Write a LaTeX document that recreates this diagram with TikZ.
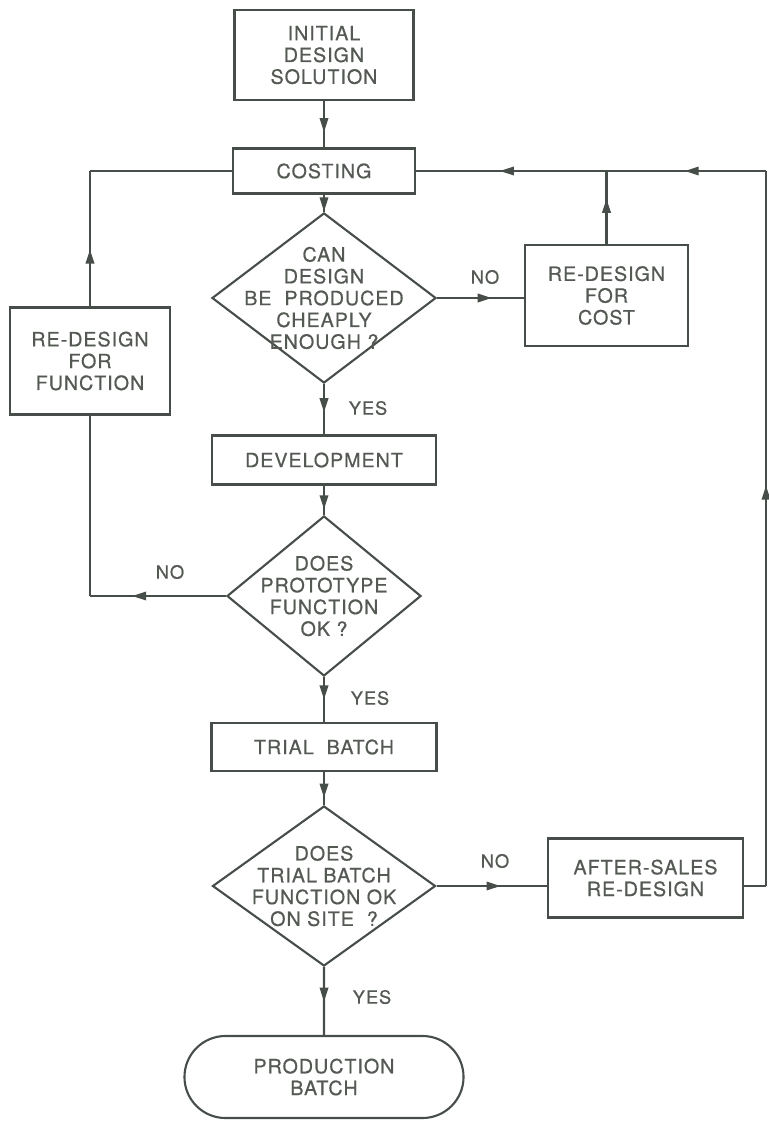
\documentclass[tikz,border=0pt]{standalone}
\usepackage{fontspec}
\setmainfont[LetterSpace=5, FakeBold=0.6]{TeX Gyre Heros}
\usepackage{tikz}
\usetikzlibrary{shapes.geometric, shapes.misc, arrows.meta, decorations.markings, calc}
\definecolor{inkgrey}{HTML}{474D48}
\definecolor{textgrey}{HTML}{545954}

\begin{document}
\begin{tikzpicture}[x=0.025cm, y=-0.025cm,
  blockbox/.style={draw=inkgrey, line width=1.5pt, rectangle, align=center, text=textgrey, font=\fontsize{14}{15.5}\selectfont, inner sep=0pt},
  querybox/.style={draw=inkgrey, line width=1.5pt, diamond, inner sep=0pt},
  querytext/.style={text=textgrey, align=center, font=\fontsize{14}{15.5}\selectfont},
  answer/.style={text=textgrey, font=\fontsize{13}{13}\selectfont},
  flowline/.style={color=inkgrey, line width=1.5pt},
  midarrow/.style={flowline, postaction={decorate}, decoration={markings, mark=at position #1 with {\arrow{Triangle[length=10pt, width=6pt]}}}},
  midarrow/.default=0.55]

  \useasboundingbox (0,0) rectangle (768,1122);

  % Main column
  \node[blockbox, minimum width=4.475cm, minimum height=2.25cm] (init) at (324,55) {INITIAL\\DESIGN\\SOLUTION};
  \node[blockbox, minimum width=4.55cm, minimum height=1.125cm] (cost) at (324,171) {COSTING};
  \node[querybox, minimum width=5.6cm, minimum height=4.25cm,
        label={[querytext]center:CAN\\DESIGN\\BE \ PRODUCED\\CHEAPLY\\ENOUGH ?}] (cheap) at (324,298) {};
  \node[blockbox, minimum width=5.6cm, minimum height=1.225cm] (devel) at (324,460) {DEVELOPMENT};
  \node[querybox, minimum width=4.85cm, minimum height=4.0cm,
        label={[querytext]center:DOES\\PROTOTYPE\\FUNCTION\\OK ?}] (proto) at (324,596) {};
  \node[blockbox, minimum width=5.625cm, minimum height=1.2cm] (trial) at (324,747) {TRIAL \ BATCH};
  \node[querybox, minimum width=5.575cm, minimum height=4.0cm,
        label={[querytext]center:DOES\\TRIAL BATCH\\FUNCTION OK\\ON SITE \ ?}] (site) at (324,886) {};
  \node[blockbox, rounded rectangle, minimum width=6.975cm, minimum height=2.05cm] (prod) at (324,1077) {PRODUCTION\\BATCH};

  % Side boxes
  \node[blockbox, minimum width=4.075cm, minimum height=2.525cm] (recost) at (606.5,295.5) {RE-DESIGN\\FOR\\COST};
  \node[blockbox, minimum width=4.0cm, minimum height=2.675cm] (refunc) at (90,361) {RE-DESIGN\\FOR\\FUNCTION};
  \node[blockbox, minimum width=4.875cm, minimum height=1.975cm] (aft) at (645.5,878) {AFTER-SALES\\RE-DESIGN};

  % Corner points
  \coordinate (jct) at (recost.north |- cost.east);
  \coordinate (rtop) at (766,171);
  \coordinate (rbot) at (766,886);
  \coordinate (aftout) at (aft.east |- site.east);
  \coordinate (ltop) at (refunc.north |- cost.west);
  \coordinate (lbot) at (refunc.south |- proto.west);

  % Main flow
  \draw[midarrow=0.67] (init) -- (cost);
  \draw[midarrow=0.97] (cost) -- (cheap);
  \draw[midarrow=0.56] (cheap) -- (devel);
  \draw[midarrow=0.81] (devel) -- (proto);
  \draw[midarrow=0.5] (proto) -- (trial);
  \draw[midarrow=0.78] (trial) -- (site);
  \draw[midarrow=0.51] (site) -- (prod);

  % Cost loop
  \draw[midarrow=0.63] (cheap.east) -- (cheap.east -| recost.west);
  \draw[midarrow=0.62] (recost.north) -- (jct);
  \draw[midarrow=0.56] (jct) -- (cost.east);

  % Function loop
  \draw[midarrow=0.69] (proto.west) -- (lbot);
  \draw[flowline] (lbot) -- (refunc.south);
  \draw[midarrow=0.42] (refunc.north) -- (ltop);
  \draw[flowline] (ltop) -- (cost.west);

  % After-sales loop
  \draw[midarrow=0.58] (site.east) -- (site.east -| aft.west);
  \draw[flowline] (aftout) -- (rbot);
  \draw[midarrow=0.56] (rbot) -- (rtop);
  \draw[midarrow=0.51] (rtop) -- (jct);

  % Answers
  \node[answer] (yes1) at (368,408) {YES};
  \node[answer] (yes2) at (370,698) {YES};
  \node[answer] (yes3) at (372,997) {YES};
  \node[answer] (no1) at (485,277) {NO};
  \node[answer] (no2) at (170,572) {NO};
  \node[answer] (no3) at (495,861) {NO};
\end{tikzpicture}
\end{document}
